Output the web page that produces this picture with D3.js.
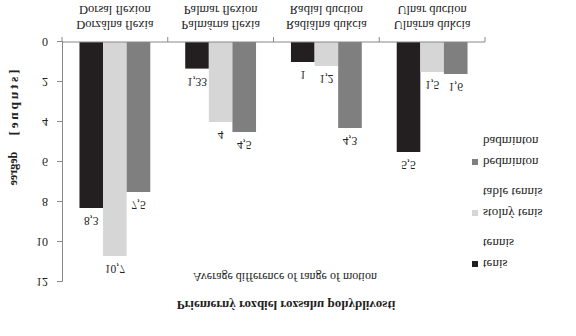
<!DOCTYPE html>
<html>
<head>
<meta charset="utf-8">
<script src="https://cdn.jsdelivr.net/npm/d3@7"></script>
<style>
  body { margin: 0; background: #fff; }
  svg { display: block; font-family: "Liberation Serif", "DejaVu Serif", serif; }
</style>
</head>
<body>
<div id="chart"></div>
<script>
// categories (Slovak / English), series and values
var catSk = ["Dorzálna flexia", "Palmárna flexia", "Radiálna dukcia", "Ulnárna dukcia"];
var catEn = ["Dorsal flexion", "Palmar flexion", "Radial duction", "Ulnar duction"];
var seriesSk = ["tenis", "stolný tenis", "bedminton"];
var seriesEn = ["tennis", "table tennis", "badminton"];
var colors = ["#231f20", "#d6d6d6", "#7f7f7f"];
var tenis = [8.3, 1.33, 1, 5.5];
var stolnyTenis = [10.7, 4, 1.2, 1.5];
var bedminton = [7.5, 4.5, 4.3, 1.6];
var yTicks = [0, 2, 4, 6, 8, 10, 12];

var values = [tenis, stolnyTenis, bedminton];
var width = 576, height = 336;

var svg = d3.select('#chart')
  .append('svg')
  .attr('width', width)
  .attr('height', height);

svg.append('rect').attr('width', width).attr('height', height).attr('fill', '#fff');

// the reference picture is mirrored top-to-bottom, so the whole chart is drawn and then flipped
var g = svg.append('g')
  .attr('transform', 'translate(0,' + height + ') scale(1,-1)');

var x0 = d3.scaleBand().domain(catSk).range([62, 485]).padding(0);
var x1 = d3.scaleBand().domain(seriesSk).range([0, x0.bandwidth()])
  .paddingInner(0).paddingOuter(0.74);
var y = d3.scaleLinear().domain([0, 12]).range([294, 54]);

// y axis
var yAxis = g.append('g')
  .attr('transform', 'translate(62,0)')
  .call(d3.axisLeft(y).tickValues(yTicks).tickSize(5).tickPadding(9));
yAxis.select('.domain').attr('stroke', '#888');
yAxis.selectAll('.tick line').attr('stroke', '#888');
yAxis.selectAll('text')
  .style('font-family', '"Liberation Serif", serif')
  .style('font-size', '12px')
  .attr('fill', '#222');

// bars
var groups = g.selectAll('.cat')
  .data(catSk)
  .enter()
  .append('g')
  .attr('class', 'cat')
  .attr('transform', function (d) { return 'translate(' + x0(d) + ',0)'; });

seriesSk.forEach(function (s, si) {
  groups.append('rect')
    .attr('x', x1(s))
    .attr('width', x1.bandwidth())
    .attr('y', function (d, i) { return y(values[si][i]); })
    .attr('height', function (d, i) { return y(0) - y(values[si][i]); })
    .attr('fill', colors[si]);

  groups.append('text')
    .attr('x', x1(s) + x1.bandwidth() / 2)
    .attr('y', function (d, i) { return y(values[si][i]) - 13; })
    .attr('text-anchor', 'middle')
    .attr('dominant-baseline', 'central')
    .style('font-size', '11.5px')
    .attr('fill', '#222')
    .text(function (d, i) { return String(values[si][i]).replace('.', ','); });
});

// category axis: line with ticks at the band edges
g.append('line')
  .attr('x1', x0.range()[0]).attr('x2', x0.range()[1])
  .attr('y1', y(0)).attr('y2', y(0))
  .attr('stroke', '#888');
var edges = catSk.map(function (c) { return x0(c); }).concat([x0.range()[1]]);
g.selectAll('.edge')
  .data(edges)
  .enter()
  .append('line')
  .attr('x1', function (d) { return d; }).attr('x2', function (d) { return d; })
  .attr('y1', y(0)).attr('y2', y(0) + 5)
  .attr('stroke', '#888');

groups.append('text')
  .attr('x', x0.bandwidth() / 2)
  .attr('y', 311)
  .attr('text-anchor', 'middle')
  .attr('dominant-baseline', 'central')
  .style('font-size', '12.5px')
  .attr('fill', '#222')
  .text(function (d) { return d; });
groups.append('text')
  .attr('x', x0.bandwidth() / 2)
  .attr('y', 326)
  .attr('text-anchor', 'middle')
  .attr('dominant-baseline', 'central')
  .style('font-size', '12.5px')
  .attr('fill', '#222')
  .text(function (d, i) { return catEn[i]; });

// y title
g.append('text')
  .attr('transform', 'translate(13,233.5) rotate(-90)')
  .attr('text-anchor', 'middle')
  .attr('dominant-baseline', 'central')
  .style('font-size', '13.5px')
  .style('font-weight', 'bold')
  .attr('textLength', 66)
  .attr('lengthAdjust', 'spacing')
  .attr('fill', '#222')
  .text('[stupne]');
g.append('text')
  .attr('transform', 'translate(13,167.5) rotate(-90)')
  .attr('text-anchor', 'middle')
  .attr('dominant-baseline', 'central')
  .style('font-size', '12px')
  .style('font-weight', 'bold')
  .attr('fill', '#222')
  .text('degree');

// titles
g.append('text')
  .attr('x', 286).attr('y', 31)
  .attr('text-anchor', 'middle')
  .attr('dominant-baseline', 'central')
  .style('font-size', '13px')
  .style('font-weight', 'bold')
  .attr('fill', '#222')
  .text('Priemerný rozdiel rozsahu pohyblivosti');
g.append('text')
  .attr('x', 285).attr('y', 59)
  .attr('text-anchor', 'middle')
  .attr('dominant-baseline', 'central')
  .style('font-size', '12px')
  .attr('fill', '#222')
  .text('Average difference  of range of motion');

// legend
var legend = g.selectAll('.legend')
  .data(seriesSk)
  .enter()
  .append('g')
  .attr('class', 'legend')
  .attr('transform', function (d, i) { return 'translate(475,' + (72 + i * 51) + ')'; });
legend.append('rect')
  .attr('x', -3).attr('y', -3)
  .attr('width', 6).attr('height', 6)
  .attr('fill', function (d, i) { return colors[i]; });
legend.append('text')
  .attr('x', 8)
  .attr('dominant-baseline', 'central')
  .style('font-size', '13px')
  .attr('fill', '#222')
  .text(function (d) { return d; });
legend.append('text')
  .attr('x', 8).attr('y', 21)
  .attr('dominant-baseline', 'central')
  .style('font-size', '13px')
  .attr('fill', '#222')
  .text(function (d, i) { return seriesEn[i]; });
</script>
</body>
</html>
